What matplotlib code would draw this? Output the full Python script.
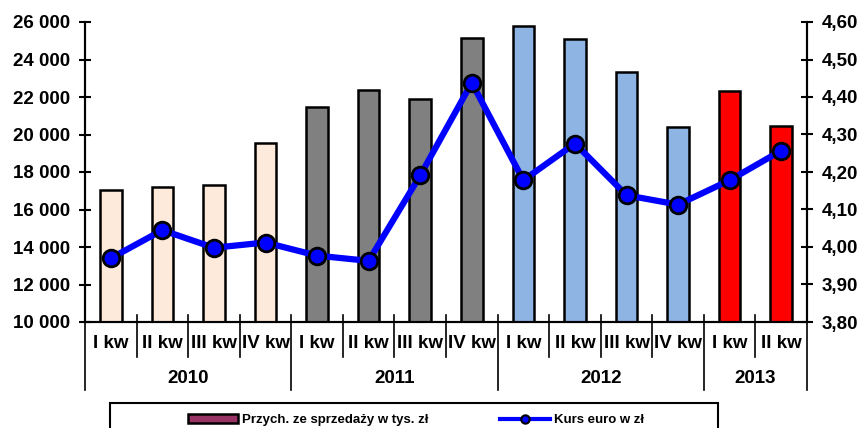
import matplotlib.pyplot as plt
from matplotlib.ticker import FuncFormatter, MultipleLocator
from matplotlib.patches import Rectangle, Patch
from matplotlib.lines import Line2D
import numpy as np

plt.rcParams['font.family'] = ['Liberation Sans', 'DejaVu Sans']
plt.rcParams['font.weight'] = 'bold'

# --- data ---
quarters = ["I kw", "II kw", "III kw", "IV kw",
            "I kw", "II kw", "III kw", "IV kw",
            "I kw", "II kw", "III kw", "IV kw",
            "I kw", "II kw"]
years = ["2010", "2011", "2012", "2013"]
year_sizes = [4, 4, 4, 2]
year_colors = ["#FDEADA", "#808080", "#8EB4E3", "#FF0000"]

revenue = [17050, 17180, 17290, 19560,
           21480, 22370, 21910, 25130,
           25800, 25080, 23350, 20400,
           22340, 20480]
eur_rate = [3.970, 4.045, 3.998, 4.012,
            3.977, 3.963, 4.191, 4.438,
            4.178, 4.276, 4.138, 4.113,
            4.178, 4.257]

fig = plt.figure(figsize=(8.63, 4.28), dpi=100)
ax = fig.add_axes([85/863, 1 - 322/428, 722/863, 300/428])
ax2 = ax.twinx()

x = np.arange(len(quarters))
bar_colors = np.repeat(year_colors, year_sizes)
ax.bar(x, np.array(revenue) - 10000, bottom=10000, width=0.42,
       color=bar_colors, edgecolor="black", linewidth=1.8, zorder=2)

ax2.plot(x, eur_rate, color="#0000FF", lw=4.5, marker="o", markersize=12,
         markerfacecolor="#0000FF", markeredgecolor="black",
         markeredgewidth=2, zorder=3)

ax.set_xlim(-0.5, len(quarters) - 0.5)
ax.set_ylim(10000, 26000)
ax2.set_ylim(3.80, 4.60)
ax.yaxis.set_major_locator(MultipleLocator(2000))
ax2.yaxis.set_major_locator(MultipleLocator(0.10))
ax.yaxis.set_major_formatter(FuncFormatter(lambda v, p: f"{int(v):,}".replace(",", " ")))
ax2.yaxis.set_major_formatter(FuncFormatter(lambda v, p: f"{v:.2f}".replace(".", ",")))

for a in (ax, ax2):
    a.spines["top"].set_visible(False)
    a.tick_params(axis="y", direction="inout", length=9, width=1.5,
                  labelsize=13.5, pad=6)
    for s in ("left", "right", "bottom"):
        a.spines[s].set_linewidth(1.5)
ax.set_xticks([])
ax2.set_zorder(ax.get_zorder() + 1)
ax2.patch.set_visible(False)

# category axis: labels and separators
trans = ax.get_xaxis_transform()
for i, q in enumerate(quarters):
    ax.text(i, -0.07, q, transform=trans, ha="center", va="center",
            fontsize=13.5, fontweight="bold")
bounds = np.concatenate([[0], np.cumsum(year_sizes)])
for b in range(len(quarters) + 1):
    y_end = -0.227 if b in bounds else -0.117
    ax.plot([b - 0.5, b - 0.5], [0.023, y_end], transform=trans,
            color="black", lw=1.2, clip_on=False)
for yr, s, e in zip(years, bounds[:-1], bounds[1:]):
    ax.text((s + e - 1) / 2, -0.187, yr, transform=trans, ha="center",
            va="center", fontsize=13.5, fontweight="bold")

# legend
fig.patches.append(Rectangle((110/863, -0.1), 608/863, 0.1 + 1 - 403/428,
                             transform=fig.transFigure, fill=False,
                             edgecolor="black", lw=1.5))
handles = [Patch(facecolor="#993366", edgecolor="black", linewidth=1.8),
           Line2D([], [], color="#0000FF", lw=3, marker="o", markersize=6,
                  markerfacecolor="#0000FF", markeredgecolor="black",
                  markeredgewidth=1.5)]
fig.legend(handles, ["Przych. ze sprzedaży w tys. zł", "Kurs euro w zł"],
           loc="center", bbox_to_anchor=(416/863, 1 - 420/428), ncol=2,
           frameon=False, handlelength=3.8, handletextpad=0.3,
           columnspacing=5.4, borderpad=0.1,
           prop={"weight": "bold", "size": 9.5})

fig.savefig("out.png", dpi=100)
